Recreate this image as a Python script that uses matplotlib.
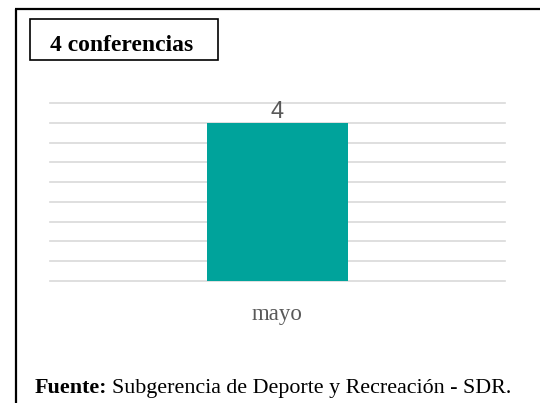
import matplotlib
matplotlib.use('Agg')
import matplotlib.pyplot as plt
from matplotlib.patches import Rectangle
from matplotlib.lines import Line2D

# data
months = ['mayo']
conferencias = [4]
title_text = '4 conferencias'
source_bold = 'Fuente:'
source_text = 'Subgerencia de Deporte y Recreación - SDR.'

W, H = 540, 403
fig = plt.figure(figsize=(W / 100, H / 100), dpi=100)

# outer frame (left and top only)
fig.add_artist(Line2D([15.5 / W, 15.5 / W], [0, 1 - 8.5 / H], transform=fig.transFigure,
                      color='black', lw=1.6, solid_capstyle='butt'))
fig.add_artist(Line2D([15 / W, 1], [1 - 8.5 / H, 1 - 8.5 / H], transform=fig.transFigure,
                      color='black', lw=1.6, solid_capstyle='butt'))

# title box
fig.add_artist(Rectangle((30 / W, 1 - 60 / H), 188 / W, 41 / H, transform=fig.transFigure,
                         fill=False, edgecolor='black', lw=1.2))
fig.text(50 / W, 1 - 51 / H, title_text, family='Liberation Serif', weight='bold',
         fontsize=17, va='baseline', ha='left')

ax = fig.add_axes([50 / W, 1 - 281 / H, 455 / W, 178 / H])
x = range(len(months))
ax.bar(x, conferencias, width=0.312, color='#00A39B', zorder=3)
ax.set_xlim(-0.5, 0.5)
ax.set_ylim(0, 4.5)
ax.set_yticks([i * 0.5 for i in range(10)])
ax.yaxis.grid(True, color='#d9d9d9', lw=1.2)
for gl in ax.get_ygridlines():
    gl.set_clip_on(False)
ax.set_axisbelow(True)
ax.tick_params(left=False, bottom=False, labelleft=False)
ax.set_xticks(list(x))
ax.set_xticklabels(months, family='Liberation Serif', fontsize=16.5, color='#595959')
ax.tick_params(axis='x', pad=13)
for s in ax.spines.values():
    s.set_visible(False)

for xi, v in zip(x, conferencias):
    ax.annotate(str(v), xy=(xi, v), xytext=(0, 3.5), textcoords='offset points',
                ha='center', va='baseline', fontsize=17, color='#595959',
                family='Liberation Sans')

# source
t = fig.text(35 / W, 1 - 393 / H, source_bold, family='Liberation Serif', weight='bold',
             fontsize=15.8, va='baseline', ha='left')
fig.canvas.draw()
bb = t.get_window_extent()
fig.text(bb.x1 / W + 4 / W, 1 - 393 / H, source_text, family='Liberation Serif',
         fontsize=15.8, va='baseline', ha='left')

fig.savefig('out.png', dpi=100)
